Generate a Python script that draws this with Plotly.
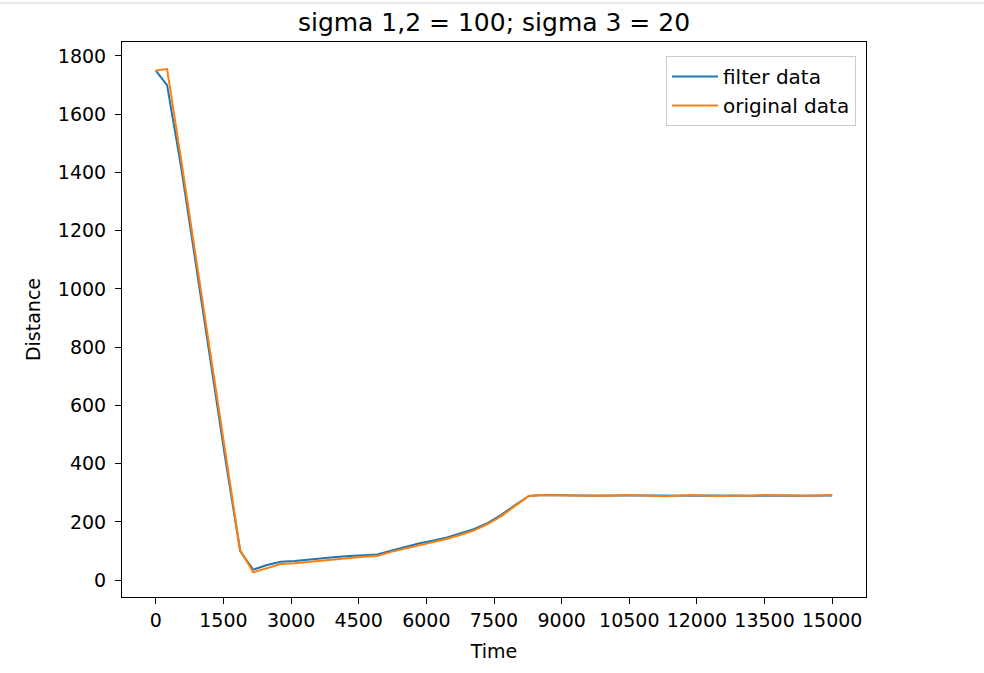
import plotly.graph_objects as go

# ---- data ----
time = [0, 250, 570, 890, 1220, 1540, 1870, 2160,
        2466, 2771, 3077, 3383, 3689, 3994, 4300, 4606, 4911, 5217,
        5523, 5828, 6134, 6440, 6746, 7051, 7357, 7663, 7969, 8274,
        8580, 8886, 9191, 9497, 9803, 10109, 10414, 10720, 11026, 11331,
        11637, 11943, 12249, 12554, 12860, 13166, 13471, 13777, 14083, 14389,
        14694, 15000]

filter_data = [1750, 1700, 1410, 1080, 745, 418, 100, 36,
               52, 63, 66, 71, 75, 79, 83, 86, 88, 101,
               113, 126, 135, 146, 160, 175, 196, 224, 258, 289,
               292, 291, 291, 290, 290, 291, 290, 291, 291, 290,
               289, 290, 291, 290, 290, 290, 290, 291, 291, 290,
               290, 291]

original_data = [1750, 1755, 1435, 1105, 770, 440, 103, 27,
                 42, 55, 58, 63, 68, 72, 76, 80, 83, 97,
                 108, 121, 130, 141, 155, 170, 192, 220, 255, 289,
                 292, 291, 289, 290, 291, 290, 292, 291, 290, 288,
                 291, 292, 290, 289, 291, 290, 292, 291, 289, 290,
                 291, 292]

x_ticks = [0, 1500, 3000, 4500, 6000, 7500, 9000, 10500, 12000, 13500, 15000]
y_ticks = [0, 200, 400, 600, 800, 1000, 1200, 1400, 1600, 1800]

title_text = "sigma 1,2 = 100; sigma 3 = 20"

FONT = "DejaVu Sans"
FS = 19

fig = go.Figure()
fig.add_trace(go.Scatter(x=time, y=filter_data, mode="lines", name="filter data",
                         line=dict(color="#1f77b4", width=2)))
fig.add_trace(go.Scatter(x=time, y=original_data, mode="lines", name="original data",
                         line=dict(color="#ff7f0e", width=2)))

axis_common = dict(showline=True, linecolor="black", linewidth=1, mirror=True,
                   ticks="outside", ticklen=6, tickwidth=1, tickcolor="black",
                   showgrid=False, zeroline=False,
                   tickfont=dict(family=FONT, size=FS, color="black"))

fig.update_layout(
    width=984, height=673,
    margin=dict(l=122, r=118, t=42, b=76, pad=0),
    paper_bgcolor="white", plot_bgcolor="white",
    font=dict(family=FONT, color="black"),
    title=dict(text=title_text, x=0.5, xref="paper", xanchor="center",
               y=1 - 22 / 673, yanchor="middle", yref="container",
               font=dict(family=FONT, size=25, color="black")),
    xaxis=dict(range=[-750, 15750], tickvals=x_ticks,
               ticktext=[str(v) for v in x_ticks],
               title=dict(text="Time", font=dict(family=FONT, size=FS), standoff=14),
               **axis_common),
    yaxis=dict(range=[-58, 1848], tickvals=y_ticks,
               ticktext=[str(v) for v in y_ticks],
               ticklabelstandoff=5,
               title=dict(text="Distance", font=dict(family=FONT, size=FS), standoff=12),
               **axis_common),
    legend=dict(x=(856 - 122) / 744, y=(597 - 56) / 555, xanchor="right", yanchor="top",
                bgcolor="rgba(255,255,255,0.8)", bordercolor="#cccccc", borderwidth=1,
                itemwidth=46, entrywidth=142, tracegroupgap=0,
                font=dict(family=FONT, size=20, color="black")),
    showlegend=True,
)

# light separator line at the very top of the picture
fig.add_shape(type="line", xref="paper", yref="paper",
              x0=-122 / 744, x1=(984 - 122) / 744,
              y0=(597 - 3) / 555, y1=(597 - 3) / 555,
              line=dict(color="#d4d4d4", width=1))

fig.write_html("out.html", config={"displayModeBar": False},
               post_script="document.body.style.margin='0';document.body.style.overflow='hidden';")
